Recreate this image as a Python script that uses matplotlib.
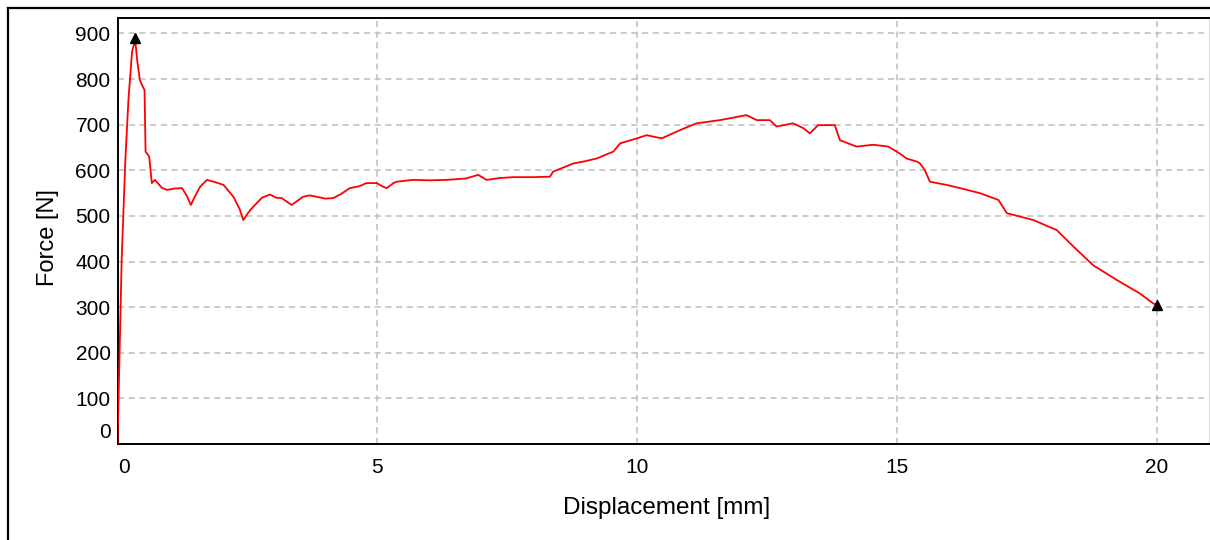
import numpy as np
import matplotlib
matplotlib.use('Agg')
import matplotlib.pyplot as plt
import matplotlib.transforms as mtrans
from matplotlib.lines import Line2D

plt.rcParams['font.family'] = ['Liberation Sans', 'DejaVu Sans']

disp = [0.00, 0.03, 0.08, 0.15, 0.21, 0.28, 0.34, 0.38, 0.43, 0.48, 0.52, 0.54,
        0.58, 0.61, 0.66, 0.72, 0.85, 0.95, 1.10, 1.24, 1.33, 1.41, 1.50, 1.59,
        1.72, 1.88, 2.04, 2.23, 2.35, 2.42, 2.52, 2.61, 2.78, 2.93, 3.05, 3.16,
        3.35, 3.57, 3.70, 3.83, 4.00, 4.15, 4.30, 4.47, 4.65, 4.79, 4.99, 5.11,
        5.18, 5.31, 5.37, 5.69, 6.00, 6.33, 6.70, 6.94, 7.10, 7.35, 7.61, 8.00,
        8.32, 8.38, 8.77, 9.00, 9.22, 9.54, 9.67, 9.99, 10.18, 10.47, 10.82, 11.14,
        11.59, 11.78, 12.10, 12.30, 12.55, 12.68, 13.00, 13.20, 13.32, 13.48, 13.80,
        13.90, 14.22, 14.54, 14.83, 15.05, 15.18, 15.38, 15.44, 15.53, 15.63, 15.95,
        16.21, 16.59, 16.95, 17.11, 17.62, 18.07, 18.39, 18.77, 19.22, 19.67, 19.93,
        20.00]
force = [0, 150, 403, 620, 754, 860, 886, 840, 798, 785, 776, 641,
         635, 630, 572, 579, 562, 557, 560, 561, 545, 524, 545, 564,
         579, 574, 568, 542, 515, 491, 508, 520, 540, 547, 540, 539,
         524, 542, 545, 542, 538, 539, 548, 561, 565, 572, 572, 564,
         561, 572, 575, 579, 578, 579, 582, 590, 579, 583, 585, 585,
         586, 597, 615, 620, 626, 641, 659, 670, 677, 670, 688, 703,
         710, 714, 721, 710, 710, 696, 703, 692, 681, 699, 699,
         666, 652, 656, 652, 637, 626, 619, 615, 601, 575, 568,
         561, 550, 535, 506, 491, 469, 433, 392, 360, 330, 308,
         305]

# peak and end markers
mark_x = [0.34, 20.0]
mark_y = [890, 305]

x_ticks = [0, 5, 10, 15, 20]
y_ticks = [0, 100, 200, 300, 400, 500, 600, 700, 800, 900]

W, H = 1210, 540
fig = plt.figure(figsize=(W / 100, H / 100), dpi=100)
ax = fig.add_axes([117.5 / W, 1 - 444 / H, (1209 - 117.5) / W, (444 - 17.5) / H])

ax.plot(disp, force, color='#ff0000', linewidth=1.3, zorder=3)
ax.plot(mark_x, mark_y, linestyle='none', marker='^', color='black',
        markersize=7, zorder=4, clip_on=False)

ax.set_xlim(0, 21)
ax.set_ylim(0, 935)
ax.set_xticks(x_ticks)
ax.set_yticks(y_ticks)
ax.grid(True, color='#bdbdbd', linestyle=(0, (4, 3)), linewidth=1.1)
ax.set_axisbelow(True)
ax.tick_params(length=0, labelsize=15, pad=5)
ax.tick_params(axis='x', pad=10)

# software keeps the "0" labels inside the corner
dpi_tr = fig.dpi_scale_trans
ax.get_yticklabels()[0].set_transform(
    ax.get_yticklabels()[0].get_transform() + mtrans.ScaledTranslation(0, 14 / 100, dpi_tr))
ax.get_xticklabels()[0].set_transform(
    ax.get_xticklabels()[0].get_transform() + mtrans.ScaledTranslation(6.5 / 100, 0, dpi_tr))

for side in ['left', 'bottom', 'top']:
    ax.spines[side].set_linewidth(1.4)
    ax.spines[side].set_color('black')
ax.spines['right'].set_color('#dddddd')

ax.set_xlabel('Displacement [mm]', fontsize=17.5, va='center')
ax.xaxis.set_label_coords(0.503, -0.150)
ax.set_ylabel('Force [N]', fontsize=17, va='center')
ax.yaxis.set_label_coords(-0.064, 0.483)

# outer frame of the screenshot
fig.add_artist(Line2D([8 / W, 8 / W], [0, 1 - 8 / H], color='black', linewidth=1.6,
                      transform=fig.transFigure))
fig.add_artist(Line2D([8 / W, 1], [1 - 8 / H, 1 - 8 / H], color='black', linewidth=1.6,
                      transform=fig.transFigure))

fig.savefig('out.png', dpi=100)
